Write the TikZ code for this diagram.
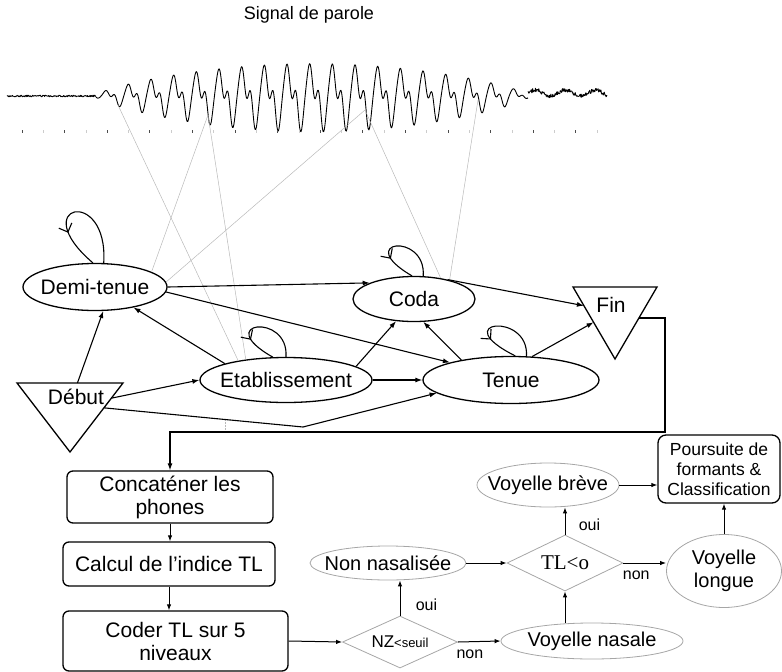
\documentclass[tikz,border=0pt]{standalone}
\usepackage{fontspec}
\setmainfont{Liberation Sans}
\newfontfamily\tlfont{Liberation Serif}
\usetikzlibrary{arrows.meta,shapes.geometric,decorations.markings}
\usetikzlibrary{positioning}

\tikzset{
  state/.style={ellipse, draw, line width=1.3pt, inner xsep=-25pt, inner ysep=0pt, font=\fontsize{21}{25}\selectfont},
  link/.style={line width=1.1pt, -{Latex[length=7pt,width=5pt]}},
  selfloop/.style={line width=1.1pt, postaction={decorate},
    decoration={markings, mark=at position #1 with {\arrow{Straight Barb[length=7pt,width=14pt]}}}},
  ray/.style={gray!55, line width=0.5pt},
  tri/.style={line width=1.3pt, line join=miter},
  wave/.style={line width=0.9pt, line join=round},
  box/.style={rectangle, rounded corners=6pt, draw, line width=1.3pt, inner sep=0pt, align=center, font=\fontsize{21}{23}\selectfont},
  oval/.style={ellipse, draw=gray!70, line width=0.8pt, inner xsep=-25pt, inner ysep=0pt, align=center, font=\fontsize{20}{23}\selectfont},
  test/.style={diamond, draw=gray!70, line width=0.8pt, aspect=2, inner sep=0pt},
  flow/.style={line width=1pt, -{Latex[length=6pt,width=4.5pt]}},
  tag/.style={font=\fontsize{16}{18}\selectfont}
}

\begin{document}
\begin{tikzpicture}[x=1pt,y=-1pt,
  declare function={ph(\t)=mod(\t-107,22.67)*15.88; env(\t)=33*(sin((\t-95)/435*180))^0.7;}]
\useasboundingbox (0,0) rectangle (782,672);

%% speech signal
\node[font=\fontsize{18}{20}\selectfont] (title) at (309,15) {Signal de parole};
\pgfmathsetseed{7}
\draw[wave] plot[domain=7:96,samples=150] (\x,{96+0.8*rand});
\draw[wave] plot[domain=96:528,samples=650] (\x,{96-env(\x)*(0.75*cos(ph(\x))+0.4*cos(2*ph(\x)+100)+0.15*cos(3*ph(\x)))});
\draw[wave] plot[domain=528:607,samples=170] (\x,{93-3*sin(12*(\x-528))+2*rand});
% time marks
\foreach \x in {22,64.6,...,600} \draw[black!70, line width=0.8pt] (\x,130) -- (\x,132.5);
\foreach \x in {43.3,85.9,...,600} \draw[gray!40, line width=0.8pt] (\x,130) -- (\x,132.5);

%% states
\node[state, minimum width=144pt, minimum height=47pt] (dt) at (95,287) {Demi-tenue};
\node[state, minimum width=122pt, minimum height=45pt] (coda) at (414,299) {Coda};
\node[state, minimum width=172pt, minimum height=45pt] (etab) at (286,380) {Etablissement};
\node[state, minimum width=176pt, minimum height=47pt] (ten) at (511,380) {Tenue};
\node[font=\fontsize{21}{25}\selectfont] (deb) at (76,397) {Début};
\node[font=\fontsize{21}{25}\selectfont] (fin) at (611,305) {Fin};

% start and end triangles
\coordinate (debL) at (17,383); \coordinate (debR) at (123,383); \coordinate (debB) at (70,452);
\coordinate (finA) at (573,287); \coordinate (finC) at (657,287); \coordinate (finB) at (615,359);
\draw[tri] (debL) -- (debR) -- (debB) -- cycle;
\draw[tri] (finA) -- (finC) -- (finB) -- cycle;
\path (debL) -- (debR) coordinate[pos=0.57] (debT);
\path (debR) -- (debB) coordinate[pos=0.22] (debE) coordinate[pos=0.36] (debF);
\path (finA) -- (finB) coordinate[pos=0.26] (finP) coordinate[pos=0.49] (finQ);
\path (finC) -- (finB) coordinate[pos=0.43] (finO);
\coordinate (bend) at (303,427);
\coordinate (turn) at (665,432);

%% links to the signal
\coordinate (w1) at (118,105);
\coordinate (w2) at (208,115);
\coordinate (w3) at (365,110);
\coordinate (w4) at (478,100);
\draw[ray] (w1) -- (etab.158);
\draw[ray] (w2) -- (dt.15);
\draw[ray] (w2) -- (etab.153);
\draw[ray] (w3) -- (dt.4);
\draw[ray] (w3) -- (coda.38);
\draw[ray] (w4) -- (coda.28);
\draw[ray, densely dotted] (225,420) -- (225,430);

%% transitions
\draw[link] (dt.east) -- (coda.160);
\draw[link] (dt.-4) -- (ten.164);
\draw[link] (etab.165) -- (dt.-28);
\draw[link] (debT) -- (dt.-71);
\draw[link] (debE) -- (etab.west);
\draw[link] (debF) -- (bend) -- (ten.190);
\draw[link] (etab.11) -- (coda.-129);
\draw[link] (etab.east) -- (ten.west);
\draw[link] (ten.158) -- (coda.-68);
\draw[link] (coda.30) -- (finP);
\draw[link] (ten.48) -- (finQ);

% self loops
\draw[selfloop=0.7] (dt.70) .. controls +(5,-78) and +(-68,-58) .. (dt.95);
\draw[selfloop=0.7] (etab.90) .. controls +(3,-45) and +(-62,-35) .. (etab.120);
\draw[selfloop=0.7] (coda.68) .. controls +(3,-45) and +(-60,-35) .. (coda.95);
\draw[selfloop=0.7] (ten.57) .. controls +(3,-45) and +(-70,-35) .. (ten.80);

%% processing chain
\node[box, minimum width=206pt, minimum height=52pt] (cc) at (170,497) {Concaténer les\\phones};
\node[box, minimum width=212pt, minimum height=44pt] (cal) at (169,564) {Calcul de l’indice TL};
\node[box, minimum width=225pt, minimum height=60pt] (cod) at (175.5,641) {Coder TL sur 5\\niveaux};
\node[test, minimum width=115pt, minimum height=52pt] (nz) at (400,642) {\fontsize{17}{20}\selectfont NZ{\fontsize{13}{15}\selectfont<seuil}};
\node[oval, minimum width=182pt, minimum height=36pt] (vn) at (592,641) {Voyelle nasale};
\node[oval, minimum width=156pt, minimum height=34pt] (nn) at (388,563) {Non nasalisée};
\node[test, minimum width=116pt, minimum height=56pt] (tl) at (565,563) {\tlfont\fontsize{21}{24}\selectfont TL<o};
\node[oval, minimum width=142pt, minimum height=44pt] (vb) at (548,485) {Voyelle brève};
\node[box, rounded corners=8pt, minimum width=122pt, minimum height=68pt, font=\fontsize{17.5}{20}\selectfont] (ps) at (719,469) {Poursuite de\\formants \&\\Classification};
\node[oval, minimum width=115pt, minimum height=73pt] (vl) at (724,571) {Voyelle\\longue};

\draw[link] (finO) -| (turn) -| (cc.north);
\draw[flow] (cc.south) -- (cc.south |- cal.north);
\draw[flow] (cal.south) -- (cal.south |- cod.north);
\draw[flow] (cod.east) -- (nz.west);
\draw[flow] (nz.east) -- node[tag, below=4pt, pos=0.28] {non} (vn.west);
\draw[flow] (nz.north) -- node[tag, right=12pt, pos=0.3] {oui} (nz.north |- nn.south);
\draw[flow] (nn.east) -- (tl.west);
\draw[flow] (vn.north -| tl.south) -- (tl.south);
\draw[flow] (tl.north) -- node[tag, right=10pt, pos=0.35] {oui} (tl.north |- vb.south);
\draw[flow] (vb.east) -- (vb.east -| ps.west);
\draw[flow] (tl.east) -- node[tag, below=4pt, pos=0.3] {non} (tl.east -| vl.west);
\draw[flow] (vl.north) -- (vl.north |- ps.south);
\end{tikzpicture}
\end{document}
